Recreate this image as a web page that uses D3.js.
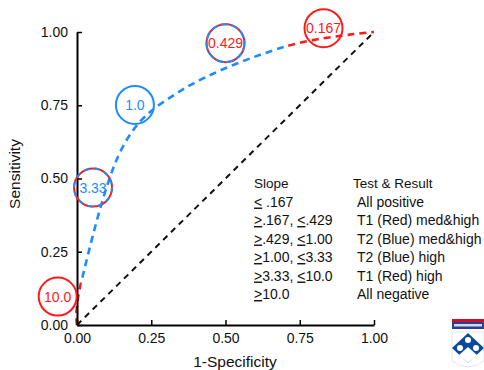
<!DOCTYPE html>
<html>
<head>
<meta charset="utf-8">
<script src="https://cdn.jsdelivr.net/npm/d3@7/dist/d3.min.js"></script>
<style>
  body { margin: 0; background: #fff; }
  svg { display: block; font-family: "Liberation Sans", Arial, sans-serif; }
</style>
</head>
<body>
<div id="chart"></div>
<script>
// ROC points (1-specificity, sensitivity)
const rocFpr = [0, 0.015, 0.15, 0.35, 0.70, 1.0];
const rocTpr = [0, 0.15, 0.60, 0.80, 0.95, 1.0];
// colour bands along the x axis: [from, to, colour]
const bandFrom = [0, 0.015, 0.70];
const bandTo = [0.015, 0.70, 1.0];
const bandColor = ["red", "blue", "red"];

const ticks = [0, 0.25, 0.5, 0.75, 1.0];

// slope annotations: label, anchor (data units), style
const slopeLabels = ["10.0", "3.33", "1.0", "0.429", "0.167"];
const slopeX = [-0.065, 0.054, 0.195, 0.50, 0.83];
const slopeY = [0.097, 0.469, 0.751, 0.962, 1.013];
const slopeKind = ["red", "mixedRed", "blue", "mixedBlue", "red"];

const legendSlope = [
  [["<", " .167"]],
  [[">", ".167, "], ["<", ".429"]],
  [[">", ".429, "], ["<", "1.00"]],
  [[">", "1.00, "], ["<", "3.33"]],
  [[">", "3.33, "], ["<", "10.0"]],
  [[">", "10.0"]]
];
const legendResult = ["All positive", "T1 (Red) med&high", "T2 (Blue) med&high",
  "T2 (Blue) high", "T1 (Red) high", "All negative"];

const RED = "#ff1a1a", BLUE = "#1e8cff";

const W = 484, H = 370;
const svg = d3.select("#chart").append("svg").attr("width", W).attr("height", H);

const x = d3.scaleLinear().domain([0, 1]).range([77, 374]);
const y = d3.scaleLinear().domain([0, 1]).range([325, 32]);

// chance diagonal
svg.append("line")
  .attr("x1", x(0)).attr("y1", y(0)).attr("x2", x(1)).attr("y2", y(1))
  .attr("stroke", "#111").attr("stroke-width", 2).attr("stroke-dasharray", "6,5");

// ROC curve, smooth, coloured by x band through clip paths
const pts = rocFpr.map((f, i) => [f, rocTpr[i]]);
const line = d3.line().x(d => x(d[0])).y(d => y(d[1])).curve(d3.curveCardinal.tension(0));
const defs = svg.append("defs");
bandColor.forEach((c, i) => {
  const x0 = i === 0 ? 0 : x(bandFrom[i]);
  const x1 = i === bandColor.length - 1 ? W : x(bandTo[i]);
  defs.append("clipPath").attr("id", "band" + i)
    .append("rect").attr("x", x0).attr("y", 0).attr("width", x1 - x0).attr("height", H);
  svg.append("path")
    .datum(pts)
    .attr("clip-path", `url(#band${i})`)
    .attr("fill", "none")
    .attr("stroke", c === "red" ? RED : BLUE)
    .attr("stroke-width", 2.6)
    .attr("stroke-dasharray", "7,5")
    .attr("d", line);
});

// axes
const yAxis = svg.append("g")
  .attr("transform", `translate(${x(0)},0)`)
  .call(d3.axisLeft(y).tickValues(ticks).tickFormat(d3.format(".2f")).tickSizeInner(-5).tickSizeOuter(0).tickPadding(9));
const xAxis = svg.append("g")
  .attr("transform", `translate(0,${y(0)})`)
  .call(d3.axisBottom(x).tickValues(ticks).tickFormat(d3.format(".2f")).tickSizeInner(-5).tickSizeOuter(0).tickPadding(8));
[xAxis, yAxis].forEach(a => {
  a.select(".domain").attr("stroke", "#000").attr("stroke-width", 2);
  a.selectAll(".tick line").attr("stroke", "#000").attr("stroke-width", 1.5);
  a.selectAll(".tick text").attr("font-size", 14).attr("fill", "#111")
    .attr("font-family", "Liberation Sans, Arial, sans-serif");
});

svg.append("text")
  .attr("x", 235).attr("y", 367)
  .attr("text-anchor", "middle").attr("font-size", 15.5).attr("fill", "#111")
  .text("1-Specificity");
svg.append("text")
  .attr("transform", "translate(20,174) rotate(-90)")
  .attr("text-anchor", "middle").attr("font-size", 15.5).attr("fill", "#111")
  .text("Sensitivity");

// slope circles
slopeLabels.forEach((lab, i) => {
  const cx = x(slopeX[i]), cy = y(slopeY[i]);
  const kind = slopeKind[i];
  const g = svg.append("g");
  if (kind === "red" || kind === "blue") {
    g.append("circle").attr("cx", cx).attr("cy", cy).attr("r", 19)
      .attr("fill", "none").attr("stroke", kind === "red" ? RED : BLUE).attr("stroke-width", 2);
  } else {
    g.append("circle").attr("cx", cx).attr("cy", cy).attr("r", 19)
      .attr("fill", "none").attr("stroke", RED).attr("stroke-width", 2);
    g.append("circle").attr("cx", cx).attr("cy", cy).attr("r", 19)
      .attr("fill", "none").attr("stroke", BLUE).attr("stroke-width", 2)
      .attr("stroke-dasharray", kind === "mixedBlue" ? "8,2.5" : "5,5");
  }
  const txtColor = (kind === "blue" || kind === "mixedRed") ? BLUE : RED;
  g.append("text").attr("x", cx).attr("y", cy).attr("dy", "0.36em")
    .attr("text-anchor", "middle").attr("font-size", 14).attr("fill", txtColor)
    .text(lab);
});

// legend table
const legY0 = 183, legStep = 18.5;
const leg = svg.append("g").attr("font-size", 14).attr("fill", "#111");
leg.append("text").attr("x", 254).attr("y", legY0).attr("dy", "0.36em").attr("font-size", 13.5).text("Slope");
leg.append("text").attr("x", 353).attr("y", legY0).attr("dy", "0.36em").attr("font-size", 13.5).text("Test & Result");
legendSlope.forEach((parts, i) => {
  const t = leg.append("text").attr("x", 254).attr("y", legY0 + (i + 1) * legStep).attr("dy", "0.36em");
  parts.forEach(p => {
    t.append("tspan").attr("text-decoration", "underline").text(p[0]);
    t.append("tspan").text(p[1]);
  });
});
legendResult.forEach((r, i) => {
  leg.append("text").attr("x", 357).attr("y", legY0 + (i + 1) * legStep).attr("dy", "0.36em").text(r);
});

// small university shield logo, bottom right
const logo = svg.append("g").attr("transform", "translate(452,319)");
logo.append("rect").attr("x", 0).attr("y", 0).attr("width", 32).attr("height", 3).attr("fill", "#c8102e");
logo.append("rect").attr("x", 0).attr("y", 3).attr("width", 32).attr("height", 7).attr("fill", "#2b3f8c");
logo.append("rect").attr("x", 2).attr("y", 5).attr("width", 28).attr("height", 2.5).attr("fill", "#fff").attr("opacity", 0.8);
logo.append("path").attr("d", "M0,13 H32 V42 Q16,54 0,42 Z").attr("fill", "#fff").attr("stroke", "#dfe6f0");
logo.append("path").attr("d", "M16,14 L32,29 L16,44 L0,29 Z").attr("fill", "#0b4a9c");
logo.append("path").attr("d", "M16,28 L25,36 L16,44 L7,36 Z").attr("fill", "#fff");
[[16, 21], [8, 29], [24, 29]].forEach(c => {
  logo.append("circle").attr("cx", c[0]).attr("cy", c[1]).attr("r", 3).attr("fill", "#fff");
});
</script>
</body>
</html>
